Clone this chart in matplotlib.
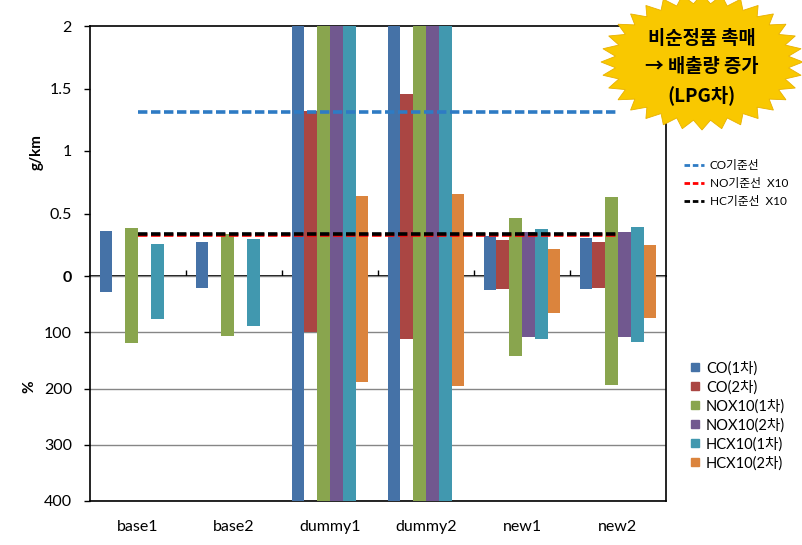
import numpy as np
import matplotlib
matplotlib.use('Agg')
import matplotlib.pyplot as plt
from matplotlib.lines import Line2D
from matplotlib.patches import Polygon
from matplotlib.transforms import IdentityTransform

plt.rcParams['font.family'] = ['Lato', 'Noto Sans CJK KR', 'DejaVu Sans']

# ---------------- data ----------------
categories = ['base1', 'base2', 'dummy1', 'dummy2', 'new1', 'new2']
series = ['CO(1차)', 'CO(2차)', 'NOX10(1차)', 'NOX10(2차)', 'HCX10(1차)', 'HCX10(2차)']
colors = ['#4572A7', '#AA4643', '#89A54E', '#71588F', '#4198AF', '#DB843D']

nan = np.nan
# emissions, g/km (upper panel)
co1_g = [0.36, 0.275, 2.6, 2.6, 0.32, 0.305]
co2_g = [nan, nan, 1.32, 1.455, 0.29, 0.27]
nox1_g = [0.385, 0.335, 2.6, 2.6, 0.465, 0.63]
nox2_g = [nan, nan, 2.6, 2.6, 0.35, 0.35]
hc1_g = [0.255, 0.295, 2.6, 2.6, 0.375, 0.39]
hc2_g = [nan, nan, 0.64, 0.655, 0.22, 0.25]

# ratio, % (lower panel, drawn downward)
co1_p = [28, 21, 450, 450, 24, 22.5]
co2_p = [nan, nan, 100, 112, 22.5, 21]
nox1_p = [119, 106, 450, 450, 142, 194]
nox2_p = [nan, nan, 450, 450, 108, 108]
hc1_p = [76, 89, 450, 450, 112, 117]
hc2_p = [nan, nan, 189, 196, 65, 74]

# reference lines
std_names = ['CO기준선', 'NO기준선  X10', 'HC기준선  X10']
std_values = [1.31, 0.325, 0.335]
std_colors = ['#2E7BC4', '#FF0000', '#000000']

top_ticks = [0.5, 1, 1.5, 2]
top_ticklabels = ['0.5', '1', '1.5', '2']
bot_ticks = [0, 100, 200, 300, 400]
bot_ticklabels = ['0', '100', '200', '300', '400']

note_lines = ['비순정품 촉매', '→ 배출량 증가', '(LPG차)']

# ---------------- figure ----------------
W, H = 803, 545
fig = plt.figure(figsize=(W / 100, H / 100), dpi=100)

def fx(px):
    return px / W

def fy(py):
    return 1 - py / H

L, R = 90, 666
Y_TOP, Y_ZERO, Y_BOT = 26, 276, 501
ax_top = fig.add_axes([fx(L), fy(Y_ZERO), (R - L) / W, (Y_ZERO - Y_TOP) / H])
ax_bot = fig.add_axes([fx(L), fy(Y_BOT), (R - L) / W, (Y_BOT - Y_ZERO) / H])

x = np.arange(len(categories))
w = 1 / 7.5
top_data = [co1_g, co2_g, nox1_g, nox2_g, hc1_g, hc2_g]
bot_data = [co1_p, co2_p, nox1_p, nox2_p, hc1_p, hc2_p]
for i, (col, tv, bv) in enumerate(zip(colors, top_data, bot_data)):
    off = (i - 2.5) * w
    ax_top.bar(x + off, tv, w, color=col, zorder=3, linewidth=0)
    ax_bot.bar(x + off, bv, w, color=col, zorder=3, linewidth=0)

for val, col in zip(std_values, std_colors):
    ax_top.plot(x, np.full(len(x), val), color=col, lw=2.6,
                dashes=(2.6, 1.0), zorder=4, solid_capstyle='butt',
                dash_capstyle='butt')

# upper axes styling
ax_top.set_xlim(-0.5, 5.5)
ax_top.set_ylim(0, 2)
ax_top.set_yticks(top_ticks)
ax_top.set_yticklabels(top_ticklabels)
ax_top.tick_params(axis='y', direction='out', length=4, width=1, pad=9,
                   labelsize=11.5, color='black')
ax_top.set_xticks(x[:-1] + 0.5)
ax_top.tick_params(axis='x', direction='inout', length=9, width=1,
                   labelbottom=False)
for s in ax_top.spines.values():
    s.set_linewidth(1.2)
    s.set_color('black')

# lower axes styling
ax_bot.set_xlim(-0.5, 5.5)
ax_bot.set_ylim(400, 0)
ax_bot.set_yticks(bot_ticks)
ax_bot.set_yticklabels(bot_ticklabels)
ax_bot.get_yticklabels()[0].set_fontweight('bold')
ax_bot.tick_params(axis='y', direction='out', length=4, width=1, pad=9,
                   labelsize=11.5, color='black')
ax_bot.set_xticks(x)
ax_bot.set_xticklabels(categories)
ax_bot.tick_params(axis='x', length=0, pad=14, labelsize=11.5)
ax_bot.yaxis.grid(True, color='#868686', lw=1)
ax_bot.set_axisbelow(True)
ax_bot.spines['top'].set_visible(False)
for s in ['left', 'right', 'bottom']:
    ax_bot.spines[s].set_linewidth(1.2)
    ax_bot.spines[s].set_color('black')

fig.text(fx(37), fy(152), 'g/km', rotation=90, ha='center', va='center',
         fontsize=11, fontweight='bold')
fig.text(fx(29), fy(387), '%', rotation=90, ha='center', va='center',
         fontsize=11, fontweight='bold')

# legends
h1 = [Line2D([], [], color=c, lw=2, dashes=(2.0, 1.0)) for c in std_colors]
fig.legend(h1, std_names, loc='upper left', bbox_to_anchor=(fx(684), fy(160)),
           frameon=False, fontsize=8.5, handlelength=1.7, handletextpad=0.5,
           labelspacing=0.6, borderaxespad=0, borderpad=0)

h2 = [Line2D([], [], color=c, marker='s', ls='none', markersize=6) for c in colors]
fig.legend(h2, series, loc='upper left', bbox_to_anchor=(fx(690), fy(361)),
           frameon=False, fontsize=10.5, handlelength=0.7, handletextpad=0.4,
           labelspacing=0.32, borderaxespad=0, borderpad=0)

# starburst note
n = 32
cx, cy = 702, H - 62
rx, ry = 101, 68
theta = np.linspace(0, 2 * np.pi, 2 * n, endpoint=False) + np.pi / 2
rr = np.where(np.arange(2 * n) % 2 == 0, 1.0, 0.86)
verts = np.c_[cx + rx * rr * np.cos(theta), cy + ry * rr * np.sin(theta)]
star = Polygon(verts, closed=True, transform=IdentityTransform(),
               facecolor='#F9C800', edgecolor='#E8B000', lw=0.6, zorder=5)
fig.add_artist(star)
for yy, t in zip([38, 66, 95], note_lines):
    fig.text(fx(702), fy(yy), t, ha='center', va='center', fontsize=13.5,
             fontweight='bold', family=['Noto Sans CJK KR', 'DejaVu Sans'],
             zorder=6)

fig.savefig('out.png', dpi=100)
